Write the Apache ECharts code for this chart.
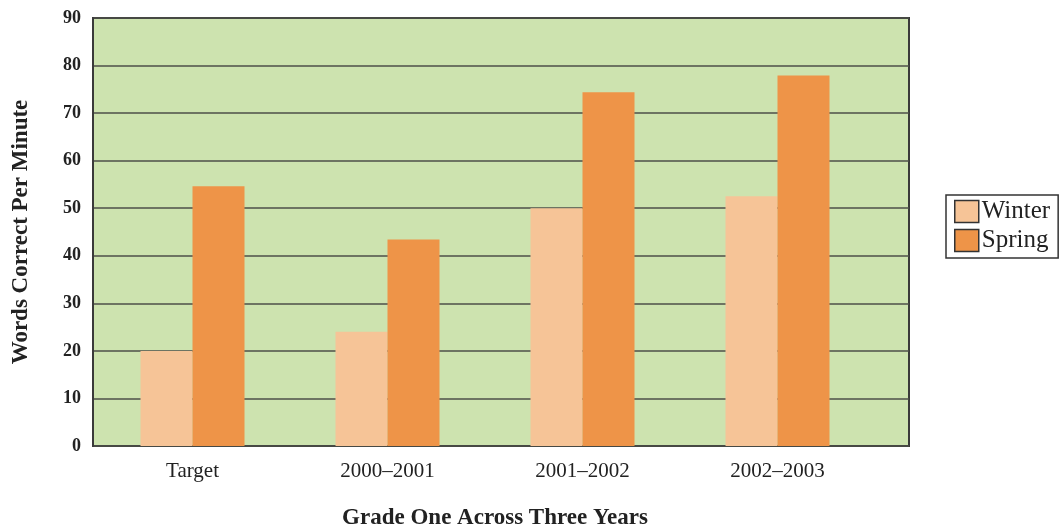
<!DOCTYPE html>
<html>
<head>
<meta charset="utf-8">
<script src="https://cdn.jsdelivr.net/npm/echarts@6/dist/echarts.min.js"></script>
<style>
html,body{margin:0;padding:0;background:#fff;}
#chart{width:1060px;height:527px;}
</style>
</head>
<body>
<div id="chart"></div>
<script>
const categories = ['Target', '2000\u20132001', '2001\u20132002', '2002\u20132003'];
const winter = [20, 24, 50, 52.5];
const spring = [54.6, 43.4, 74.4, 77.9];
const seriesNames = ['Winter', 'Spring'];
const yTitle = 'Words Correct Per Minute';
const xTitle = 'Grade One Across Three Years';

const FONT = '"Liberation Serif", "DejaVu Serif", serif';
const chart = echarts.init(document.getElementById('chart'));
chart.setOption({
  animation: false,
  backgroundColor: '#ffffff',
  textStyle: { fontFamily: FONT },
  grid: [
    { left: 93, top: 18, width: 816, height: 428, show: true, backgroundColor: '#cde3af', borderColor: '#3a3a3a', borderWidth: 2, containLabel: false, outerBoundsMode: 'none' },
    { left: 95, top: 18, width: 780, height: 428, containLabel: false, outerBoundsMode: 'none' }
  ],
  xAxis: [
    { gridIndex: 0, type: 'value', min: 0, max: 1, axisLine: { show: false }, axisTick: { show: false }, axisLabel: { show: false }, splitLine: { show: false },
      name: xTitle, nameLocation: 'middle', nameGap: 61,
      nameTextStyle: { fontFamily: FONT, fontWeight: 'bold', fontSize: 23, color: '#222', padding: [0, 12, 0, 0] } },
    { gridIndex: 1, type: 'category', data: categories, axisLine: { show: false }, axisTick: { show: false },
      axisLabel: { fontFamily: FONT, fontSize: 21, color: '#222', margin: 15 } }
  ],
  yAxis: [
    { gridIndex: 0, type: 'value', min: 0, max: 90, interval: 10,
      axisLine: { show: true, lineStyle: { color: '#3a3a3a', width: 2 } }, axisTick: { show: false },
      axisLabel: { fontFamily: FONT, fontWeight: 'bold', fontSize: 18, color: '#222', margin: 12, padding: [2, 0, 0, 0] },
      splitLine: { show: true, lineStyle: { color: '#4d4f49', width: 1.6 } },
      name: yTitle, nameLocation: 'middle', nameGap: 60, nameRotate: 90,
      nameTextStyle: { fontFamily: FONT, fontWeight: 'bold', fontSize: 23, color: '#222' } },
    { gridIndex: 1, type: 'value', min: 0, max: 90, interval: 10, show: false, splitLine: { show: false } }
  ],
  legend: {
    orient: 'vertical', left: 946, top: 195,
    data: seriesNames,
    backgroundColor: '#ffffff', borderColor: '#333', borderWidth: 1.5,
    padding: [4, 8, 5, 8], itemWidth: 24, itemHeight: 22, itemGap: 4,
    icon: 'rect',
    itemStyle: { borderColor: '#333', borderWidth: 1.5 },
    textStyle: { fontFamily: FONT, fontSize: 25, color: '#222', padding: [0, 0, 0, -2] }
  },
  series: [
    { name: seriesNames[0], type: 'bar', xAxisIndex: 1, yAxisIndex: 1, data: winter, barWidth: 52, barGap: '0%',
      itemStyle: { color: '#f6c497' } },
    { name: seriesNames[1], type: 'bar', xAxisIndex: 1, yAxisIndex: 1, data: spring, barWidth: 52, barGap: '0%',
      itemStyle: { color: '#ee9448' } }
  ]
});
</script>
</body>
</html>
